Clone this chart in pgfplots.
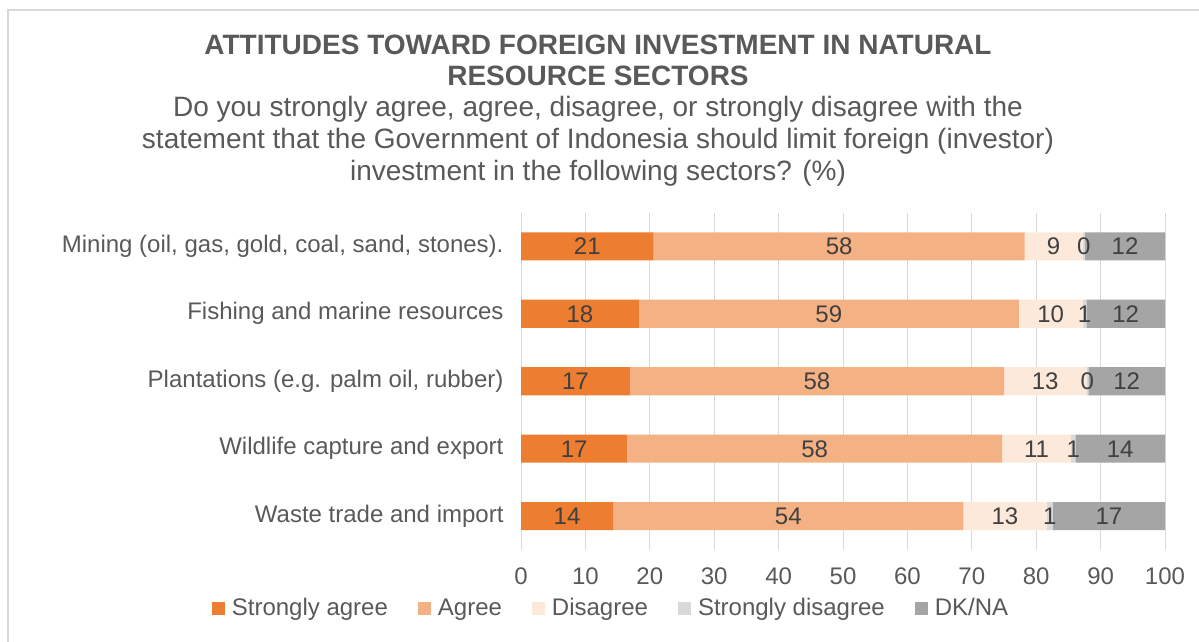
\documentclass[border=0pt]{standalone}
\usepackage{pgfplots}
\pgfplotsset{compat=1.18}
\usepackage{fontspec}
\setmainfont{Liberation Sans}
\definecolor{sa}{HTML}{ED7D31}
\definecolor{ag}{HTML}{F4B183}
\definecolor{di}{HTML}{FDE9D9}
\definecolor{sd}{HTML}{D9D9D9}
\definecolor{dk}{HTML}{A5A5A5}
\definecolor{txt}{HTML}{595959}
\definecolor{lbl}{HTML}{404040}
\begin{document}
\begin{tikzpicture}[x=1pt,y=1pt]
\useasboundingbox (0,0) rectangle (1199,642);
\draw[sd, line width=1.5pt] (8,0) -- (8,632) -- (1199,632);
\node[font=\fontsize{28}{31}\selectfont\bfseries, text=txt, align=center] at (598,582) {ATTITUDES TOWARD FOREIGN INVESTMENT IN NATURAL\\RESOURCE SECTORS};
\node[font=\fontsize{28}{32}\selectfont, text=txt, align=center] at (598,501) {Do you strongly agree, agree, disagree, or strongly disagree with the\\statement that the Government of Indonesia should limit foreign (investor)\\investment in the following sectors? (\%)};
\begin{axis}[
  at={(521pt,92pt)}, anchor=south west,
  scale only axis, width=644pt, height=337.5pt,
  xbar stacked, bar width=28pt,
  xmin=0, xmax=100, ymin=-0.5, ymax=4.5,
  xtick={0,10,...,100},
  ytick={0,1,2,3,4},
  yticklabels={Waste trade and import, Wildlife capture and export, {Plantations (e.g. palm oil, rubber)}, Fishing and marine resources, {Mining (oil, gas, gold, coal, sand, stones).}},
  axis line style={draw=none},
  major tick length=0pt,
  xmajorgrids, grid style={sd, line width=1pt},
  ticklabel style={font=\fontsize{24}{28}\selectfont, text=txt},
  /pgf/number format/assume math mode=true,
  xticklabel style={yshift=-14pt},
  yticklabel style={xshift=-14pt},
  nodes near coords={\pgfmathprintnumber[fixed,precision=0]{\pgfplotspointmeta}},
  point meta=explicit,
  every node near coord/.style={font=\fontsize{24}{28}\selectfont, text=lbl, anchor=center},
  legend style={at={(-0.485,-0.172)}, anchor=west, draw=none, fill=none, font=\fontsize{24}{28}\selectfont, text=txt, /tikz/every even column/.append style={column sep=28pt}, /tikz/every odd column/.append style={column sep=5pt}},
  legend columns=5,
  legend image code/.code={\fill[#1] (0pt,-6.5pt) rectangle (13pt,6.5pt);},
  clip=false,
]
\addplot[fill=sa, draw=none] coordinates {(14.3,0) [14.3] (16.5,1) [16.5] (16.9,2) [16.9] (18.3,3) [18.3] (20.6,4) [20.6]};
\addplot[fill=ag, draw=none] coordinates {(54.4,0) [54.4] (58.2,1) [58.2] (58.1,2) [58.1] (59.0,3) [59.0] (57.6,4) [57.6]};
\addplot[fill=di, draw=none] coordinates {(12.9,0) [12.9] (10.7,1) [10.7] (12.8,2) [12.8] (9.9,3) [9.9] (9.0,4) [9.0]};
\addplot[fill=sd, draw=none] coordinates {(1.0,0) [1.0] (0.7,1) [0.7] (0.3,2) [0.3] (0.6,3) [0.6] (0.4,4) [0.4]};
\addplot[fill=dk, draw=none] coordinates {(17.4,0) [17.4] (13.9,1) [13.9] (11.9,2) [11.9] (12.2,3) [12.2] (12.4,4) [12.4]};
\legend{Strongly agree, Agree, Disagree, Strongly disagree, DK/NA}
\end{axis}
\end{tikzpicture}
\end{document}
